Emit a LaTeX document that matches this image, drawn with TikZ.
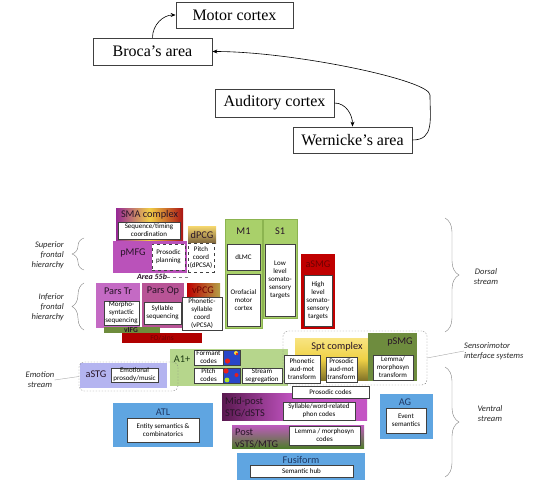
\documentclass[tikz,border=0pt]{standalone}
\usepackage{fontspec}
\setmainfont{Carlito}
\newfontfamily\oldfont{Liberation Serif}
\usetikzlibrary{arrows.meta, positioning, decorations.pathreplacing}

\definecolor{ink}{RGB}{40,20,40}
\definecolor{navy}{RGB}{31,56,100}
\definecolor{pmfgc}{RGB}{186,82,186}
\definecolor{parstrc}{RGB}{196,106,196}
\definecolor{parsopc}{RGB}{184,84,150}
\definecolor{smaL}{RGB}{150,40,150}
\definecolor{smaM}{RGB}{240,205,70}
\definecolor{smaR}{RGB}{170,20,20}
\definecolor{dpcgT}{RGB}{246,216,110}
\definecolor{dpcgB}{RGB}{125,100,60}
\definecolor{mgreen}{RGB}{169,208,106}
\definecolor{medge}{RGB}{140,180,80}
\definecolor{smgred}{RGB}{192,0,0}
\definecolor{smgdark}{RGB}{110,0,0}
\definecolor{vpcgL}{RGB}{190,0,0}
\definecolor{vpcgR}{RGB}{180,160,70}
\definecolor{vifgc}{RGB}{110,140,60}
\definecolor{foc}{RGB}{176,0,0}
\definecolor{a1c}{RGB}{182,214,140}
\definecolor{a1dark}{RGB}{30,60,20}
\definecolor{lav}{RGB}{180,180,240}
\definecolor{specblue}{RGB}{40,70,200}
\definecolor{specred}{RGB}{230,30,30}
\definecolor{specyel}{RGB}{250,220,50}
\definecolor{sptT}{RGB}{248,228,130}
\definecolor{sptM}{RGB}{240,210,70}
\definecolor{sptB}{RGB}{130,115,40}
\definecolor{psmgc}{RGB}{110,140,62}
\definecolor{midL}{RGB}{90,25,80}
\definecolor{midR}{RGB}{196,85,196}
\definecolor{postT}{RGB}{190,90,190}
\definecolor{postB}{RGB}{80,125,45}
\definecolor{blueA}{RGB}{95,165,225}

\begin{document}
\begin{tikzpicture}[x=1pt, y=-1pt,
    % boxes of the classic model
    oldbox/.style={draw=black!75, line width=0.8pt, fill=white, inner sep=0pt, font=\oldfont\fontsize{16}{18}\selectfont},
    arr/.style={-{Stealth[length=5pt, width=4pt]}, semithick},
    % coloured regions, placed by their top left corner
    reg/.style 2 args={anchor=north west, minimum width=#1, minimum height=#2, inner sep=0pt, outer sep=0pt},
    wbox/.style 2 args={reg={#1}{#2}, draw=black!75, line width=0.5pt, fill=white, align=center, font=\fontsize{7}{8}\selectfont},
    hd/.style={inner sep=0pt, align=center, text=ink, font=\fontsize{10.3}{11.5}\selectfont},
    side/.style={inner sep=0pt, align=center, text=black!85, font=\itshape\fontsize{8.5}{10}\selectfont},
    brc/.style={draw=gray, decorate, decoration={brace, amplitude=#1}},
    grp/.style 2 args={reg={#1}{#2}, draw=gray, dash pattern=on 1.5pt off 1.5pt, rounded corners=5}]

\useasboundingbox (0,0) rectangle (535,481);

% classic model
\node[oldbox, minimum width=117, minimum height=26] (motor) at (234.5,15) {Motor cortex};
\node[oldbox, minimum width=119, minimum height=27] (broca) at (152.5,51.5) {Broca’s area};
\node[oldbox, minimum width=119, minimum height=28] (aud) at (274.5,103) {Auditory cortex};
\node[oldbox, minimum width=119, minimum height=26] (wern) at (352.5,140) {Wernicke’s area};
\coordinate (bend) at (430,95);

\draw[arr] (broca.north) to[out=90, in=180] (motor.west);
\draw[arr] (aud.east) to[out=0, in=90] (wern.north);
\draw[arr] (wern.east) .. controls +(22,0) and +(0,25) .. (bend)
    .. controls +(0,-15) and +(80,0) .. (broca.east);

% frontal regions
\node[reg={67}{32}, left color=smaL, right color=smaR, middle color=smaM] (sma) at (116,208) {};
\node[hd] (sma-t) at (149.5,215) {SMA complex};
\node[wbox={62}{17}] (seq) at (118,222) {Sequence/timing\\coordination};

\node[reg={74}{32}, fill=pmfgc] (pmfg) at (113,241) {};
\node[hd] (pmfg-t) at (133,253) {pMFG};
\node[wbox={33}{26}, dashed] (pros) at (152,244) {Prosodic\\planning};

\node[reg={28}{17}, top color=dpcgT, bottom color=dpcgB] (dpcg) at (188,226) {};
\node[hd] (dpcg-t) at (202,234.5) {dPCG};
\node[wbox={26}{29}, dashed] (pitch) at (188,243) {Pitch\\coord\\(dPCSA)};

\node[inner sep=0pt, text=ink, font=\bfseries\itshape\fontsize{8}{9}\selectfont] (a55) at (152,277) {Area 55b};
\draw[gray, dashed] (a55.east) -- (a55.east -| pitch.west);

\node[reg={44}{45}, fill=parstrc] (parstr) at (96,283) {};
\node[hd] (parstr-t) at (118,291) {Pars Tr};
\node[wbox={35}{24}] (morph) at (104,301) {Morpho-\\syntactic\\sequencing};

\node[reg={42}{45}, fill=parsopc] (parsop) at (142,283) {};
\node[hd] (parsop-t) at (163,291) {Pars Op};
\node[wbox={37}{22}] (syll) at (144,302) {Syllable\\sequencing};

\node[reg={33}{17}, left color=vpcgL, right color=vpcgR] (vpcg) at (187,283) {};
\node[hd, text=smgdark] (vpcg-t) at (203,290) {vPCG};
\node[wbox={40}{33}] (phon) at (182,297) {Phonetic-\\syllable\\coord\\(vPCSA)};

\node[reg={80}{10}, fill=foc] (fo) at (122,333) {};
\node[inner sep=0pt, text=smgdark, font=\fontsize{7.5}{8}\selectfont] (fo-t) at (162,338) {FO/aIns};
\node[reg={56}{6}, fill=vifgc] (vifg) at (104,327) {};
\node[inner sep=0pt, text=ink, font=\bfseries\fontsize{7.5}{8}\selectfont] (vifg-t) at (131,330) {vIFG};

% motor and somatosensory columns
\node[reg={37}{109}, fill=mgreen, draw=medge] (m1) at (225,219) {};
\node[hd] (m1-t) at (243.5,231) {M1};
\node[wbox={33}{26}] (dlmc) at (227,244) {dLMC};
\node[wbox={33}{52}] (oro) at (227,274) {Orofacial\\motor\\cortex};

\node[reg={34}{99}, fill=mgreen, draw=medge] (s1) at (263,219) {};
\node[hd] (s1-t) at (280,231) {S1};
\node[wbox={30}{72}] (low) at (265,244) {Low\\level\\somato-\\sensory\\targets};

\node[reg={34}{75}, fill=smgred] (asmg) at (301,254) {};
\node[hd, text=smgdark] (asmg-t) at (318,264) {aSMG};
\node[wbox={28}{51}] (high) at (304,275) {High\\level\\somato-\\sensory\\targets};

% auditory and emotion regions
\node[reg={118}{37}, fill=a1c] (a1) at (170,349) {};
\node[reg={87}{25}, fill=lav] (astg) at (80,363) {};
\node[grp={99}{29}] (emo) at (79,362) {};
\node[hd, text=a1dark] (a1-t) at (182,359) {A1+};
\node[hd] (astg-t) at (96,374) {aSTG};
\node[wbox={47}{14}] (emop) at (111,368) {Emotional\\prosody/music};

\node[wbox={29}{15}] (form) at (194,350) {Formant\\codes};
\node[reg={17}{15}, fill=specblue, draw=black!75, line width=0.5pt] (formimg) at (form.north east) {};
\fill[specred] (227.5,361) circle (2.6);
\fill[specyel] (236,353) circle (2);
\fill[specred] (237,354) circle (1.4);

\node[wbox={29}{15}] (pitchc) at (194,368) {Pitch\\codes};
\node[reg={17}{15}, fill=specblue, draw=black!75, line width=0.5pt] (pitchimg) at (pitchc.north east) {};
\fill[specred] (226,371) circle (2.6);
\fill[specyel!70!green] (227,380) circle (2.4);
\fill[specred] (236.5,375) circle (2);

\node[wbox={40}{15}] (seg) at (242,368) {Stream\\segregation};

% sensorimotor interface
\node[reg={73}{42}, top color=sptT, bottom color=sptB, middle color=sptM] (spt) at (295,338) {};
\node[hd] (spt-t) at (337,347) {Spt complex};
\node[reg={49}{48}, fill=psmgc] (psmg) at (368,333) {};
\node[hd] (psmg-t) at (400,342) {pSMG};
\node[wbox={36}{28}] (phonam) at (284,355) {Phonetic\\aud-mot\\transform};
\node[wbox={31}{25}] (prosam) at (326,357) {Prosodic\\aud-mot\\transform};
\node[wbox={40}{25}] (lemt) at (373,355) {Lemma/\\morphosyn\\transform};
\node[grp={144}{54}] (smi) at (283,331) {};

% ventral regions
\node[reg={145}{27}, left color=midL, right color=midR, middle color=midR] (mid) at (222,393) {};
\node[hd, align=left, anchor=west] (mid-t) at (225,407) {Mid-post\\STG/dSTS};
\node[wbox={72}{18}] (sylw) at (283,402) {Syllable/word-related\\phon codes};
\node[wbox={77}{12}] (prosc) at (292,386) {Prosodic codes};

\node[reg={132}{23}, top color=postT, bottom color=postB] (post) at (232,425) {};
\node[hd, align=left, anchor=west] (post-t) at (235,438.5) {Post\\vSTS/MTG};
\node[wbox={71}{19}] (lemc) at (289,426) {Lemma / morphosyn\\codes};

\node[reg={128}{27}, fill=blueA] (fus) at (237,453) {};
\node[hd, text=navy] (fus-t) at (301,460) {Fusiform};
\node[wbox={103}{12}] (hub) at (250,465) {Semantic hub};

\node[reg={100}{44}, fill=blueA] (atl) at (113,403) {};
\node[hd, text=navy] (atl-t) at (163,412) {ATL};
\node[wbox={72}{24}] (ent) at (127,418) {Entity semantics \&\\combinatorics};

\node[reg={53}{45}, fill=blueA] (ag) at (380,394) {};
\node[hd, text=navy] (ag-t) at (405,402) {AG};
\node[wbox={40}{25}] (evt) at (386,408) {Event\\semantics};

% braces and stream labels
\draw[brc=12] (84,270) -- (84,238);
\node[side, align=right, anchor=east] (sup) at (64,255) {Superior\\frontal\\hierarchy};
\draw[brc=12] (84,330) -- (84,283);
\node[side, align=right, anchor=east] (inf) at (64,307) {Inferior\\frontal\\hierarchy};
\draw[brc=14] (445,218) -- (445,332);
\node[side] (dors) at (486,277) {Dorsal\\stream};
\draw[brc=14] (445,367) -- (445,477);
\node[side] (vent) at (490,414) {Ventral\\stream};

\node[side, align=left, anchor=west] (smi-t) at (464,351) {Sensorimotor\\interface systems};
\draw[gray!70] (smi.east) -- (smi-t.west);
\node[side] (emo-t) at (40,380) {Emotion\\stream};
\draw[gray!70] (emo-t.east) -- (emo.west);

\end{tikzpicture}
\end{document}
